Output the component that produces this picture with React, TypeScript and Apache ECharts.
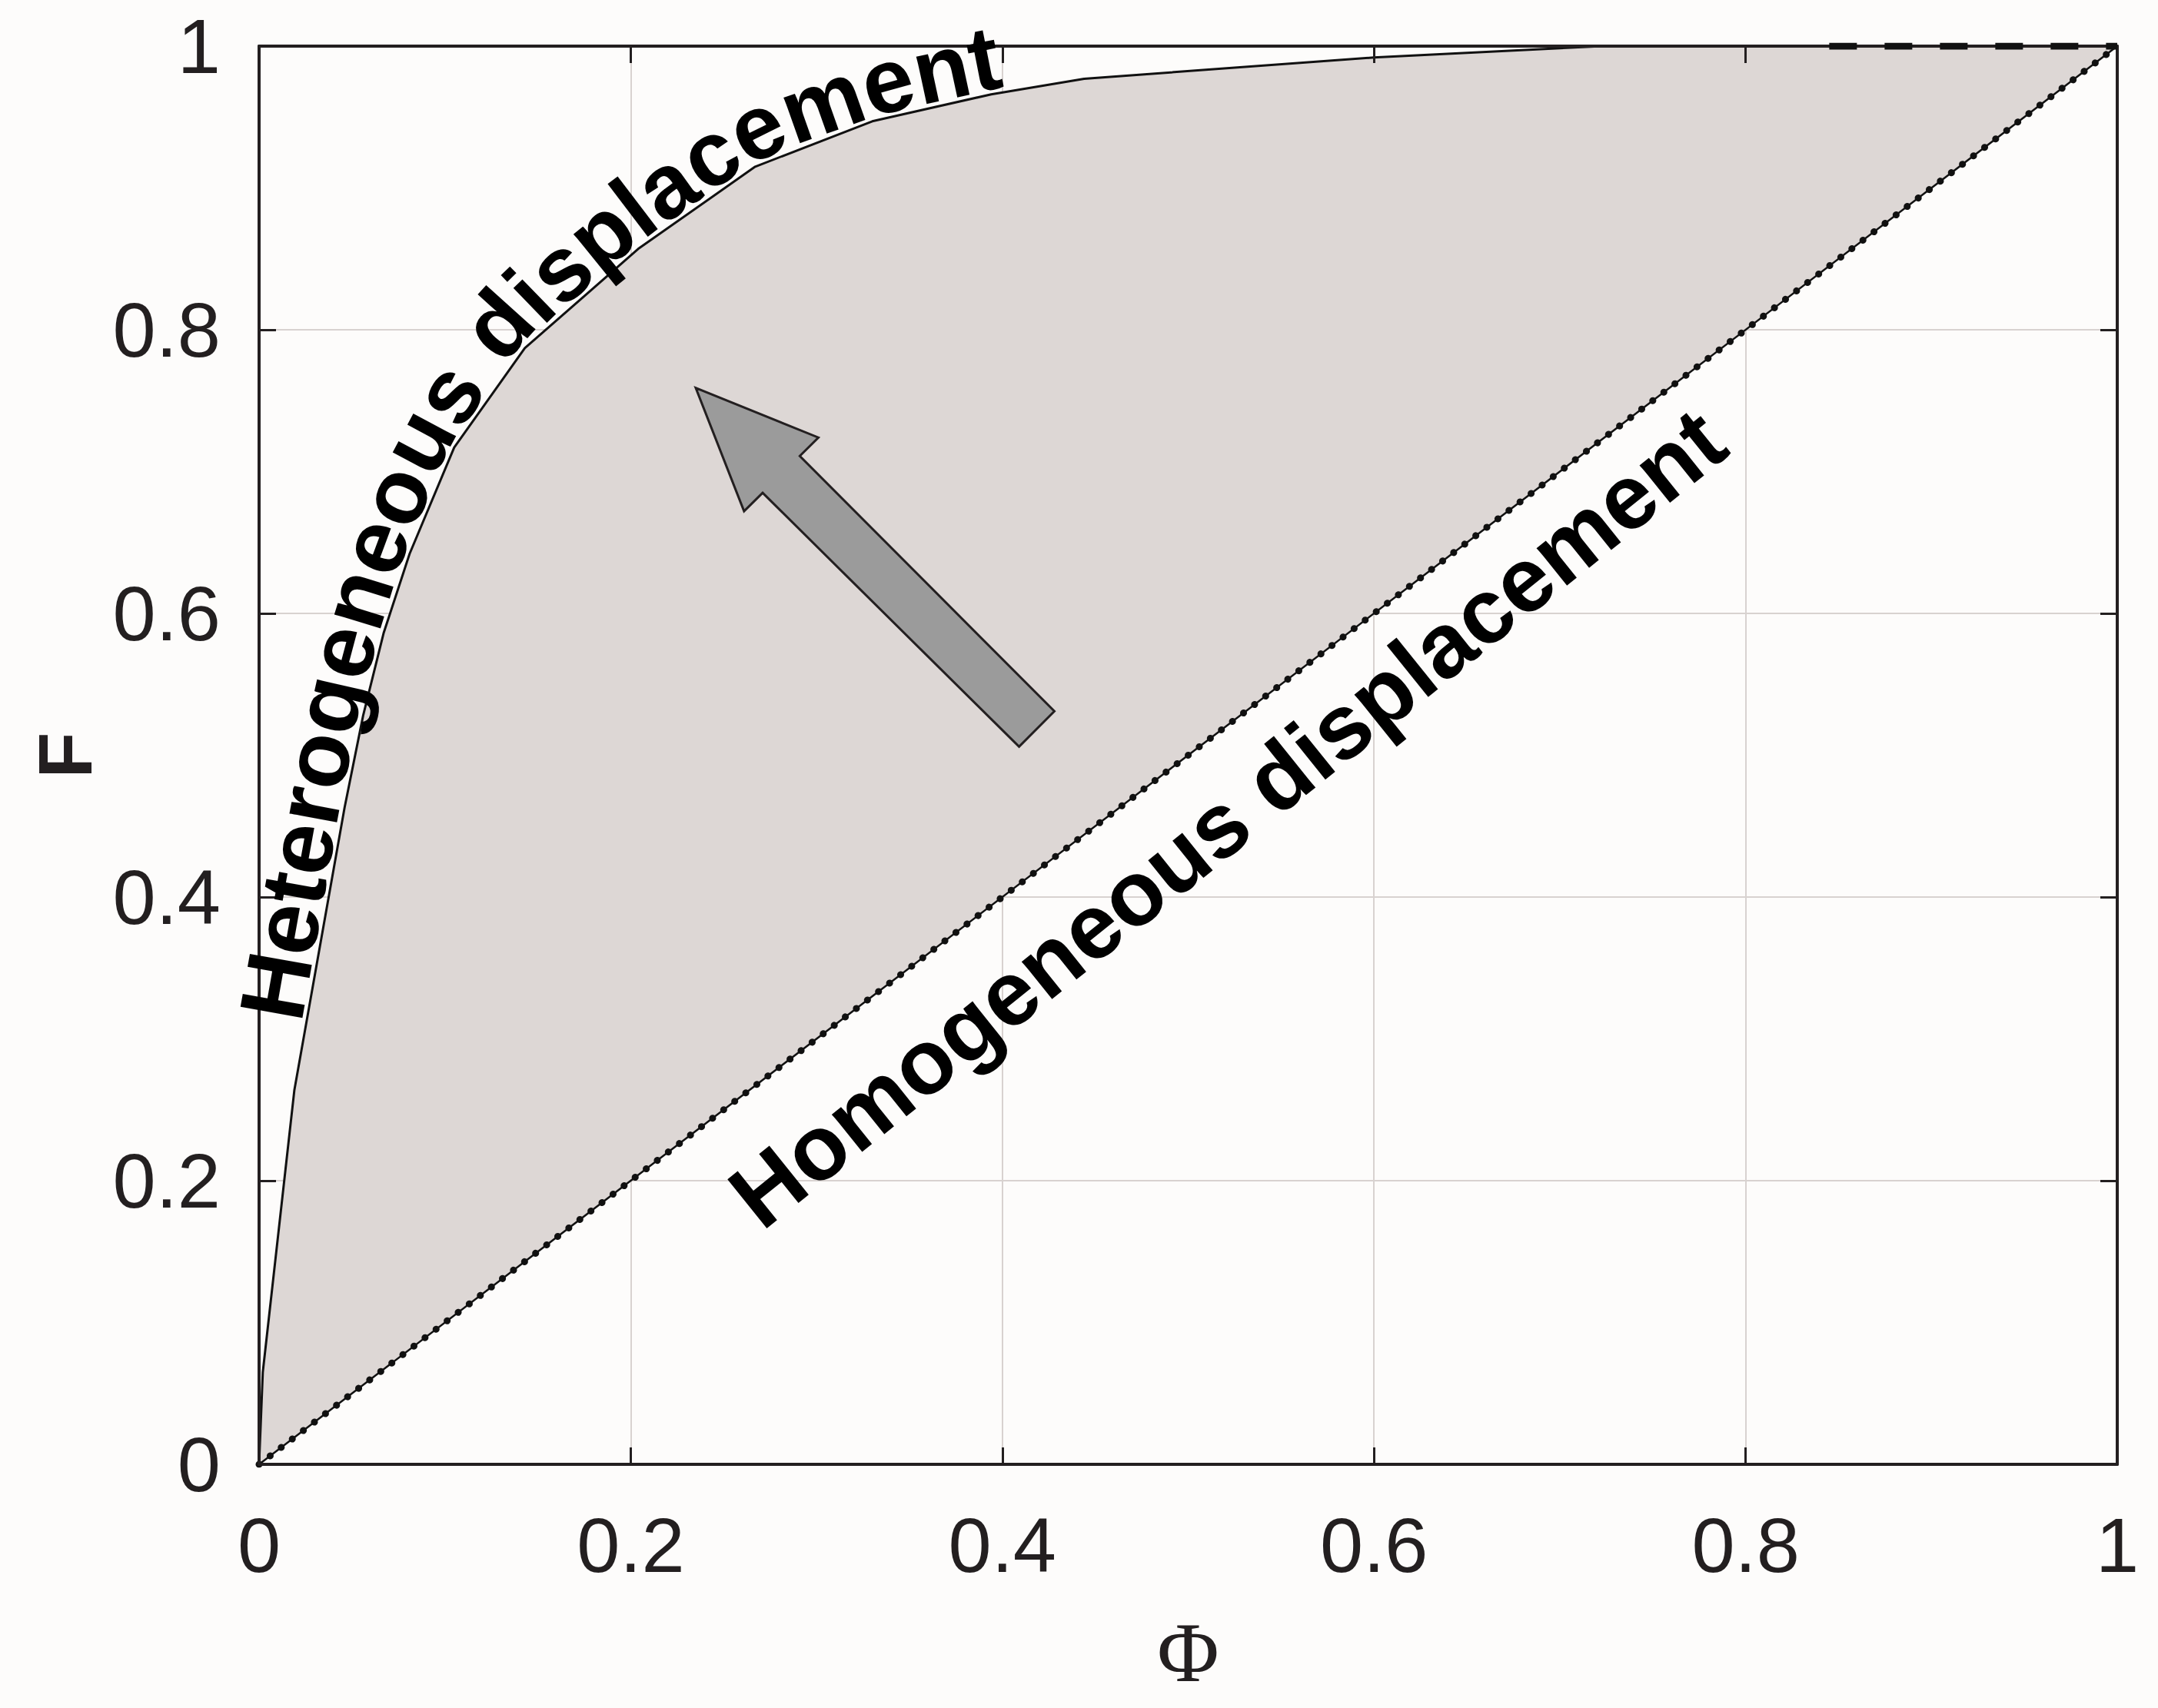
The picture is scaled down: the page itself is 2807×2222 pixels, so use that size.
import React, { useEffect, useRef } from 'react';
import * as echarts from 'echarts';

// Upper (heterogeneous) curve F(Φ)
const phiUpper = [0, 0.002, 0.019, 0.046, 0.056, 0.067, 0.081, 0.105, 0.143, 0.204, 0.267, 0.33, 0.394, 0.444, 0.6, 0.723, 1];
const fUpper = [0, 0.065, 0.264, 0.463, 0.528, 0.586, 0.642, 0.717, 0.787, 0.857, 0.915, 0.947, 0.966, 0.977, 0.992, 1, 1];

// Homogeneous displacement (diagonal)
const phiDiag = [0, 1];
const fDiag = [0, 1];

// Dashed segment along the top
const phiDash = [0.845, 1];
const fDash = [1, 1];

// Arrow outline (data coordinates)
const arrowPhi = [0.235, 0.301, 0.291, 0.428, 0.409, 0.271, 0.261];
const arrowF = [0.759, 0.724, 0.711, 0.531, 0.506, 0.685, 0.672];

// Annotation texts
const hetText = 'Heterogeneous displacement';
const hetStartF = 0.31;
const homText = 'Homogeneous displacement';
const homCenter = [0.521, 0.456];

const INK = '#231f20';
const FONT = 'Liberation Sans';

export default function App() {
  const ref = useRef<HTMLDivElement>(null);

  useEffect(() => {
    const chart = echarts.init(ref.current!, undefined, { renderer: 'svg' });

    const base = { type: 'value', min: 0, max: 1, interval: 0.2 };
    const lineAxis = {
      axisLine: { show: true, onZero: false, lineStyle: { color: INK, width: 4 } },
      axisTick: { show: true, inside: true, length: 22, lineStyle: { color: INK, width: 3 } },
      splitLine: { show: false },
      z: 10,
    };
    const gridAxis = {
      axisLine: { show: false },
      axisTick: { show: false },
      axisLabel: { show: false },
      splitLine: { show: true, lineStyle: { color: '#d8d2d0', width: 2 } },
      z: 0,
    };
    const labelStyle = { fontSize: 101, color: INK, fontFamily: FONT };

    const option: any = {
      animation: false,
      backgroundColor: '#fdfcfb',
      textStyle: { fontFamily: FONT },
      grid: { left: 337, right: 53, top: 60, bottom: 317, outerBoundsMode: 'none' },
      xAxis: [
        {
          ...base, ...lineAxis, position: 'bottom',
          axisLabel: { ...labelStyle, margin: 54 },
          name: 'Φ', nameLocation: 'middle', nameGap: 190,
          nameTextStyle: { fontFamily: 'Liberation Serif', fontSize: 110, color: INK },
        },
        { ...base, ...lineAxis, position: 'top', axisLabel: { show: false } },
        { ...base, ...gridAxis, position: 'bottom' },
      ],
      yAxis: [
        {
          ...base, ...lineAxis, position: 'left',
          axisLabel: { ...labelStyle, margin: 50 },
          name: 'F', nameLocation: 'middle', nameGap: 203,
          nameTextStyle: { fontFamily: FONT, fontSize: 98, fontWeight: 'bold', color: INK },
        },
        { ...base, ...lineAxis, position: 'right', axisLabel: { show: false } },
        { ...base, ...gridAxis, position: 'left' },
      ],
      series: [
        {
          type: 'custom', xAxisIndex: 0, yAxisIndex: 0, z: 1, silent: true,
          data: [[0, 0]],
          renderItem: (_p: any, api: any) => ({
            type: 'polygon',
            shape: { points: phiUpper.map((p, i) => api.coord([p, fUpper[i]])) },
            style: { fill: '#ddd7d5', stroke: 'none' },
          }),
        },
        {
          type: 'line', xAxisIndex: 0, yAxisIndex: 0, z: 3, symbol: 'none', silent: true,
          data: phiDiag.map((p, i) => [p, fDiag[i]]),
          lineStyle: { color: '#111', width: 9, type: [0.1, 18], cap: 'round' },
        },
        {
          type: 'line', xAxisIndex: 0, yAxisIndex: 0, z: 4, symbol: 'none', silent: true,
          data: phiDiag.map((p, i) => [p, fDiag[i]]),
          lineStyle: { color: '#111', width: 2.5 },
        },
        {
          type: 'line', xAxisIndex: 0, yAxisIndex: 0, z: 4, symbol: 'none', silent: true,
          data: phiUpper.map((p, i) => [p, fUpper[i]]),
          lineStyle: { color: '#111', width: 3 },
        },
        {
          type: 'line', xAxisIndex: 0, yAxisIndex: 0, z: 11, symbol: 'none', silent: true,
          data: phiDash.map((p, i) => [p, fDash[i]]),
          lineStyle: { color: '#111', width: 9, type: [36, 36] },
        },
        {
          type: 'custom', xAxisIndex: 0, yAxisIndex: 0, z: 5, silent: true,
          data: [[0, 0]],
          renderItem: (_p: any, api: any) => ({
            type: 'polygon',
            shape: { points: arrowPhi.map((p, i) => api.coord([p, arrowF[i]])) },
            style: { fill: '#9b9b9b', stroke: INK, lineWidth: 3, lineJoin: 'miter' },
          }),
        },
      ],
    };
    chart.setOption(option);

    // ---- curved text along the upper curve ----
    const finder = { xAxisIndex: 0, yAxisIndex: 0 };
    const pts = phiUpper.map((p, i) => chart.convertToPixel(finder, [p, fUpper[i]]) as number[]);
    const cum = [0];
    for (let i = 1; i < pts.length; i++) {
      cum.push(cum[i - 1] + Math.hypot(pts[i][0] - pts[i - 1][0], pts[i][1] - pts[i - 1][1]));
    }
    const total = cum[cum.length - 1];
    const at = (s: number) => {
      const ss = Math.max(0, Math.min(total, s));
      let k = 1;
      while (k < cum.length - 1 && cum[k] < ss) k++;
      const seg = cum[k] - cum[k - 1] || 1;
      const t = (ss - cum[k - 1]) / seg;
      return [pts[k - 1][0] + t * (pts[k][0] - pts[k - 1][0]), pts[k - 1][1] + t * (pts[k][1] - pts[k - 1][1])];
    };
    const startY = chart.convertToPixel({ yAxisIndex: 0 }, hetStartF) as number;
    let s0 = 0;
    for (let i = 1; i < pts.length; i++) {
      if (pts[i - 1][1] >= startY && pts[i][1] <= startY) {
        const t = (pts[i - 1][1] - startY) / ((pts[i - 1][1] - pts[i][1]) || 1);
        s0 = cum[i - 1] + t * (cum[i] - cum[i - 1]);
        break;
      }
    }
    const fs = 119;
    const canvas = document.createElement('canvas');
    const ctx = canvas.getContext('2d')!;
    ctx.font = `bold ${fs}px "${FONT}"`;
    const win = 90;
    const angleAt = (s: number) => {
      const a = at(s - win);
      const b = at(s + win);
      return Math.atan2(-(b[1] - a[1]), b[0] - a[0]);
    };
    const elements: any[] = [];
    let s = s0;
    const gap = 6;
    for (const c of hetText) {
      const w = ctx.measureText(c).width;
      const sc = s + w / 2;
      const p = at(sc);
      const a = angleAt(sc);
      const nx = -Math.sin(a);
      const ny = -Math.cos(a);
      const off = gap + 0.35 * fs;
      if (c !== ' ') {
        elements.push({
          type: 'text', x: p[0] + nx * off, y: p[1] + ny * off, rotation: a, z: 20, silent: true,
          style: {
            text: c, fontSize: fs, fontWeight: 'bold', fontFamily: FONT, fill: '#000',
            align: 'center', verticalAlign: 'middle', textAlign: 'center', textVerticalAlign: 'middle',
          },
        });
      }
      s += w;
    }

    // ---- straight text along the diagonal ----
    const d0 = chart.convertToPixel(finder, [phiDiag[0], fDiag[0]]) as number[];
    const d1 = chart.convertToPixel(finder, [phiDiag[1], fDiag[1]]) as number[];
    const diagAngle = Math.atan2(-(d1[1] - d0[1]), d1[0] - d0[0]);
    const hc = chart.convertToPixel(finder, homCenter) as number[];
    elements.push({
      type: 'text', x: hc[0], y: hc[1], rotation: diagAngle + 0.025, z: 20, silent: true,
      style: {
        text: homText, fontSize: 119, fontWeight: 'bold', fontFamily: FONT, fill: '#000',
        align: 'center', verticalAlign: 'middle', textAlign: 'center', textVerticalAlign: 'middle',
      },
    });

    chart.setOption({ graphic: { elements } });

    return () => chart.dispose();
  }, []);

  return (
    <div
      ref={ref}
      style={{ position: 'fixed', left: 0, top: 0, width: 2807, height: 2222 }}
    />
  );
}
